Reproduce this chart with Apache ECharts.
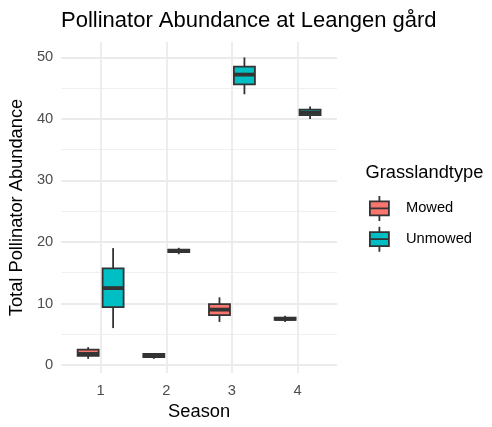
<!DOCTYPE html>
<html>
<head>
<meta charset="utf-8">
<script src="https://cdn.jsdelivr.net/npm/echarts@6/dist/echarts.min.js"></script>
<style>
  html, body { margin: 0; padding: 0; background: #fff; }
  #chart { width: 492px; height: 427px; }
</style>
</head>
<body>
<div id="chart"></div>
<script>
// season labels on the x axis
const seasons = ['1', '2', '3', '4'];
// boxplot stats per season: [min, Q1, median, Q3, max]
const mowed = [
  [1.0, 1.5, 1.8, 2.5, 2.9],
  [1.0, 1.3, 1.5, 1.8, 1.8],
  [7.0, 8.1, 9.0, 9.9, 11.0],
  [7.0, 7.35, 7.5, 7.7, 8.0]
];
const unmowed = [
  [6.0, 9.4, 12.5, 15.7, 19.0],
  [18.0, 18.35, 18.55, 18.75, 19.05],
  [44.0, 45.6, 47.2, 48.5, 50.0],
  [40.0, 40.6, 41.0, 41.5, 42.0]
];

const FONT = 'Liberation Sans, Arial, sans-serif';
const BOX_W = 0.32;   // box width in axis units
const DODGE = 0.19;   // half the dodge distance between the two groups

// legend key: box + median + whiskers
const KEY_ICON = 'path://M0,5.5L19,5.5L19,19.5L0,19.5ZM0,12.5L19,12.5M9.5,0L9.5,5.5M9.5,19.5L9.5,25';

function toRows(stats) {
  return stats.map((s, i) => [i + 1].concat(s));
}

function boxRenderer(offset) {
  return function (params, api) {
    const x = api.value(0) + offset;
    const lo = api.coord([x, api.value(1)]);
    const q1 = api.coord([x, api.value(2)]);
    const md = api.coord([x, api.value(3)]);
    const q3 = api.coord([x, api.value(4)]);
    const hi = api.coord([x, api.value(5)]);
    const half = api.size([BOX_W, 0])[0] / 2;
    const cx = md[0];
    const fill = api.visual('color');
    const lineStyle = { stroke: '#333333', lineWidth: 1.8 };
    return {
      type: 'group',
      children: [
        { type: 'line', shape: { x1: cx, y1: hi[1], x2: cx, y2: q3[1] }, style: lineStyle },
        { type: 'line', shape: { x1: cx, y1: q1[1], x2: cx, y2: lo[1] }, style: lineStyle },
        {
          type: 'rect',
          shape: { x: cx - half, y: q3[1], width: half * 2, height: q1[1] - q3[1] },
          style: { fill: fill, stroke: '#333333', lineWidth: 1.8 }
        },
        {
          type: 'line',
          shape: { x1: cx - half, y1: md[1], x2: cx + half, y2: md[1] },
          style: { stroke: '#333333', lineWidth: 3.8 }
        }
      ]
    };
  };
}

const chart = echarts.init(document.getElementById('chart'), null, { renderer: 'canvas' });

chart.setOption({
  animation: false,
  backgroundColor: '#ffffff',
  textStyle: { fontFamily: FONT },
  title: [
    {
      text: 'Pollinator Abundance at Leangen gård',
      left: 61, top: 10, padding: 0,
      textStyle: { fontFamily: FONT, fontSize: 22, fontWeight: 'normal', color: '#000000' }
    },
    {
      text: 'Grasslandtype',
      left: 365.5, top: 164, padding: 0,
      textStyle: { fontFamily: FONT, fontSize: 18.3, fontWeight: 'normal', color: '#000000' }
    }
  ],
  legend: {
    orient: 'vertical',
    left: 369, top: 195, padding: 0,
    itemWidth: 19, itemHeight: 25, itemGap: 4,
    selectedMode: false,
    data: [
      { name: 'Mowed', icon: KEY_ICON },
      { name: 'Unmowed', icon: KEY_ICON }
    ],
    itemStyle: { borderColor: '#333333', borderWidth: 1.8 },
    textStyle: { fontFamily: FONT, fontSize: 14.7, color: '#000000', padding: [0, 0, 0, 12] }
  },
  grid: { left: 61, right: 155, top: 42, bottom: 54 },
  xAxis: {
    type: 'value',
    min: 0.4, max: 4.6,
    name: 'Season',
    nameLocation: 'middle',
    nameGap: 30,
    nameTextStyle: { fontFamily: FONT, fontSize: 18.3, color: '#000000' },
    axisLine: { show: false },
    axisTick: { show: false },
    axisLabel: {
      showMinLabel: false, showMaxLabel: false,
      margin: 10,
      fontFamily: FONT, fontSize: 14.7, color: '#4D4D4D',
      formatter: v => seasons[Math.round(v) - 1] || ''
    },
    splitLine: {
      show: true, showMinLine: false, showMaxLine: false,
      lineStyle: { color: '#EBEBEB', width: 1.8 }
    }
  },
  yAxis: {
    type: 'value',
    min: -1.3, max: 52.5,
    name: 'Total Pollinator Abundance',
    nameLocation: 'middle',
    nameGap: 27,
    nameTextStyle: { fontFamily: FONT, fontSize: 18.3, color: '#000000' },
    axisLine: { show: false },
    axisTick: { show: false },
    axisLabel: {
      showMinLabel: false, showMaxLabel: false,
      margin: 8,
      fontFamily: FONT, fontSize: 14.7, color: '#4D4D4D'
    },
    splitLine: {
      show: true, showMinLine: false, showMaxLine: false,
      lineStyle: { color: '#EBEBEB', width: 1.8 }
    },
    minorTick: { show: false, splitNumber: 2 },
    minorSplitLine: { show: true, lineStyle: { color: '#F0F0F0', width: 1 } }
  },
  series: [
    {
      name: 'Mowed',
      type: 'custom',
      itemStyle: { color: '#F8766D' },
      renderItem: boxRenderer(-DODGE),
      encode: { x: 0, y: [1, 2, 3, 4, 5] },
      data: toRows(mowed)
    },
    {
      name: 'Unmowed',
      type: 'custom',
      itemStyle: { color: '#00BFC4' },
      renderItem: boxRenderer(DODGE),
      encode: { x: 0, y: [1, 2, 3, 4, 5] },
      data: toRows(unmowed)
    }
  ]
});
</script>
</body>
</html>
